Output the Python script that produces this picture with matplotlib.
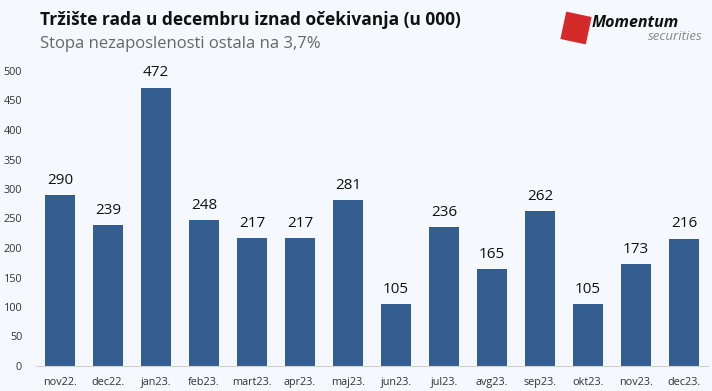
import numpy as np
import matplotlib.pyplot as plt
import matplotlib.patches as patches
import matplotlib.transforms as mtransforms

months = ["nov22.", "dec22.", "jan23.", "feb23.", "mart23.", "apr23.", "maj23.",
          "jun23.", "jul23.", "avg23.", "sep23.", "okt23.", "nov23.", "dec23."]
values = [290, 239, 472, 248, 217, 217, 281, 105, 236, 165, 262, 105, 173, 216]
yticks = [0, 50, 100, 150, 200, 250, 300, 350, 400, 450, 500]

title = "Tržište rada u decembru iznad očekivanja (u 000)"
subtitle = "Stopa nezaposlenosti ostala na 3,7%"

bg = "#f5f8fc"
bar_color = "#345e8f"

plt.rcParams['font.family'] = ['Open Sans', 'DejaVu Sans']

fig = plt.figure(figsize=(7.12, 3.91), dpi=100, facecolor=bg)
ax = fig.add_axes([36/712, 25/391, 672/712, 295/391], facecolor=bg)

x = np.arange(len(months))
ax.bar(x, values, width=0.64, color=bar_color)
for xi, v in zip(x, values):
    ax.text(xi, v + 12, str(v), ha='center', va='bottom', fontsize=11, color='#111111')

ax.set_xlim(-0.5, len(months) - 0.5)
ax.set_ylim(0, 500)
ax.set_yticks(yticks)
ax.set_xticks(x)
ax.set_xticklabels(months)
ax.tick_params(axis='both', length=0, labelsize=7.8, colors='#333333')
ax.tick_params(axis='y', pad=10)
ax.tick_params(axis='x', pad=8)
for s in ['top', 'right', 'left']:
    ax.spines[s].set_visible(False)
ax.spines['bottom'].set_color('#d0d0d0')

# naslov
fig.text(40/712, 1 - 20/391, title, fontsize=12.5, fontweight='bold', va='center', color='#111111')
fig.text(40/712, 1 - 44/391, subtitle, fontsize=12, va='center', color='#666666')

# logo: crveni kvadrat malo zarotiran
rot = mtransforms.Affine2D().rotate_deg_around(576, 391 - 28, -12)
logo = patches.Rectangle((563, 391 - 42), 26, 28, facecolor='#d42a2a', edgecolor='none',
                         transform=rot + mtransforms.IdentityTransform())
fig.patches.append(logo)
fig.text(592/712, 1 - 23/391, "Momentum", fontsize=11.5, fontweight='bold',
         style='italic', va='center', color='#111111')
fig.text(703/712, 1 - 37/391, "securities", fontsize=9.5, style='italic',
         va='center', ha='right', color='#888888')

fig.savefig("out.png", dpi=100, facecolor=bg)
